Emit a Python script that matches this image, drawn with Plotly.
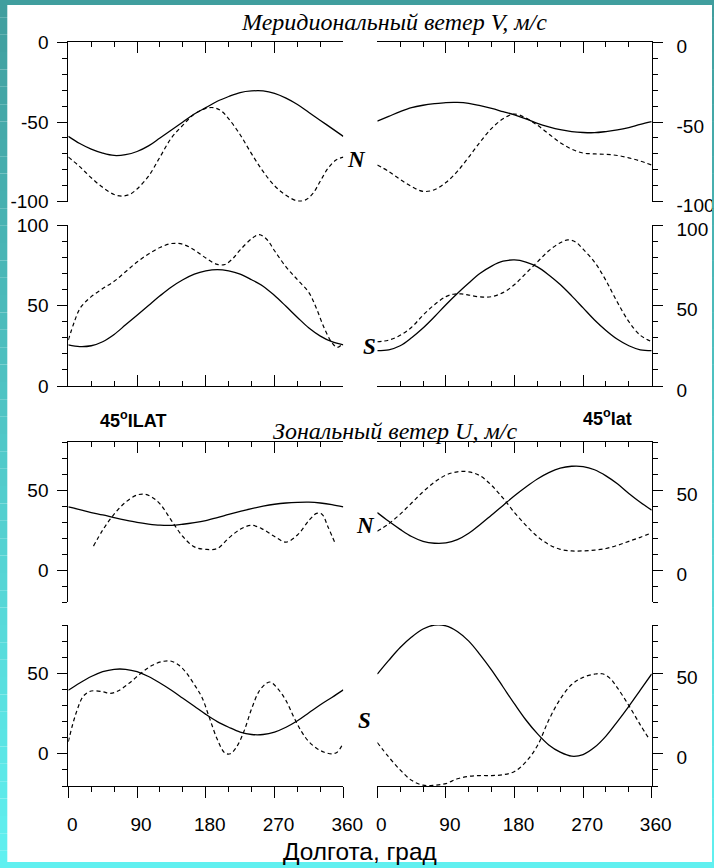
import plotly.graph_objects as go

# ---------------- data ----------------
LON15 = list(range(0, 361, 15))

# Meridional wind V, N, left (45 ILAT)
V_N_L_SOLID = [-59, -63.5, -67, -69.5, -71, -70.5, -68.5, -65, -60, -55, -50, -45, -41,
               -37, -34, -31.5, -30.5, -30.5, -32, -35, -39, -44, -49, -54, -59]
V_N_L_DASH_LON = [0, 15, 30, 45, 60, 70, 80, 90, 105, 120, 135, 150, 165, 180, 190, 200,
                  210, 225, 240, 255, 270, 285, 300, 310, 320, 330, 340, 350, 360]
V_N_L_DASH = [-72, -78, -85, -91, -95.5, -96.5, -95.5, -92, -84, -72, -60, -52, -45, -41.5,
              -41, -43, -48, -58, -70, -81, -90, -96, -99.5, -99, -95, -87, -79, -74, -72]

# Meridional wind V, N, right (45 lat)
V_N_R_SOLID = [-49.5, -46.5, -43.5, -41, -39.5, -38.5, -37.8, -37.7, -38.3, -39.8, -41.5,
               -43.5, -45.5, -48, -50.8, -53, -54.8, -56, -56.6, -56.7, -56, -55, -53.5,
               -51.5, -49.8]
V_N_R_DASH = [-77, -81, -86, -90.5, -93.5, -92.5, -88, -81, -72, -62.5, -54, -48, -45,
              -47.5, -52, -57.5, -63, -67, -69.5, -70, -70.3, -71, -72.5, -74.5, -77]

# Meridional wind V, S, left
V_S_L_SOLID = [25.5, 24.5, 25, 27.5, 32, 38, 44, 50, 56, 61.5, 66, 69.5, 71.5, 72.3, 71.5,
               69.5, 66, 62, 56.2, 49.5, 42.6, 36, 31, 27.5, 25.5]
V_S_L_DASH_LON = [0, 8, 15, 22, 30, 45, 60, 75, 90, 105, 120, 135, 150, 165, 180, 195, 205,
                  215, 225, 240, 250, 260, 270, 285, 300, 315, 325, 335, 345, 352, 360]
V_S_L_DASH = [28.5, 40, 48, 52, 55.5, 60.5, 65, 71, 77, 82, 86, 88.5, 88, 84.5, 79.5, 75.5,
              75.5, 79, 84.5, 91.5, 94, 91, 84, 74, 66, 58, 48, 36, 27, 24, 26.5]

# Meridional wind V, S, right
V_S_R_SOLID = [22, 22.5, 25, 30, 36, 43, 50.5, 57.5, 64, 70, 74.5, 77.5, 78.3, 77, 74, 69,
               63, 56, 48.5, 41, 34.5, 29, 25, 22.5, 22]
V_S_R_DASH_LON = [0, 15, 30, 45, 60, 75, 90, 100, 110, 120, 135, 150, 165, 180, 195, 210,
                  225, 240, 250, 260, 270, 285, 300, 315, 330, 345, 360]
V_S_R_DASH = [27.5, 28.5, 31.5, 36.5, 44, 50.5, 55.5, 57, 57.2, 56.5, 55.3, 55.5, 58, 63, 70,
              77, 84, 89, 90.7, 89.5, 85, 77, 65.5, 52, 40, 31.5, 27.5]

# Zonal wind U, N, left
U_N_L_SOLID = [39.5, 37.8, 36, 34.5, 32.8, 31.2, 29.8, 28.8, 28.1, 28, 28.7, 29.7, 31, 32.8,
               34.8, 36.7, 38.5, 40, 41.2, 42, 42.4, 42.5, 42, 41, 39.5]
U_N_L_DASH_LON = [33, 45, 60, 75, 90, 100, 110, 120, 135, 150, 165, 180, 195, 210, 225, 240,
                  255, 270, 285, 300, 315, 325, 332, 340, 350]
U_N_L_DASH = [15, 25, 35, 42.5, 47, 47.5, 45.5, 41.5, 31, 21, 14.5, 13, 13.5, 20, 25.5, 28,
              25.5, 21, 17.5, 22, 31, 35.5, 35, 27, 16]

# Zonal wind U, N, right
U_N_R_SOLID = [36, 30.5, 25.5, 21, 18, 16.8, 17, 19, 23, 28.5, 34.5, 40.5, 46.5, 52, 57, 61,
               63.8, 65, 64.8, 62.8, 59, 54, 48, 42.5, 37.5]
U_N_R_DASH = [24.3, 29, 35, 42, 49, 55, 59.5, 61.5, 61.5, 59, 53, 45, 36, 28, 21, 16, 13, 12,
              12, 12.5, 13.5, 15.5, 18, 20.5, 23.3]

# Zonal wind U, S, left
U_S_L_SOLID = [39.5, 44, 48, 51, 52.5, 52.5, 51, 48, 44, 39.5, 34.5, 29.5, 24.5, 20, 16.5,
               13.5, 12, 12, 13.5, 16.5, 20.5, 25.5, 30.5, 35, 39.7]
U_S_L_DASH_LON = [0, 10, 20, 30, 45, 55, 65, 80, 95, 110, 125, 135, 145, 155, 165, 175, 185,
                  195, 205, 212, 220, 230, 240, 250, 260, 265, 275, 285, 295, 305, 315, 325,
                  335, 345, 352, 358]
U_S_L_DASH = [7.5, 25, 36, 39, 38.5, 37.5, 39, 44, 50, 55, 57.5, 57.5, 55, 50, 43, 35, 22, 9,
              0.5, 0, 4, 14, 28, 39, 44, 44.5, 40, 33, 23, 14, 7.5, 3.5, 1, 0, 1, 5]

# Zonal wind U, S, right
U_S_R_SOLID = [49.5, 58, 66, 72.5, 77.5, 80, 79.5, 76, 70, 61.5, 52, 41.5, 31, 21, 12.5, 5.5,
               1, -1.5, -0.5, 4, 11, 20, 29.5, 39.5, 49.6]
U_S_R_DASH_LON = [0, 15, 30, 45, 60, 75, 90, 105, 120, 135, 150, 165, 180, 195, 210, 225, 240,
                  255, 270, 285, 295, 305, 315, 330, 345, 357]
U_S_R_DASH = [7, -2, -10, -16.5, -19.5, -19.5, -18.5, -15.5, -14, -13.5, -13.5, -13, -11, -5,
              5, 21, 34, 43, 47.5, 49.5, 49.7, 47, 41, 30, 18, 9]

# tick labels
X_TICKS = [0, 90, 180, 270, 360]
X_TICK_TEXT = ["0", "90", "180", "270", "360"]
V_N_TICKS = [-100, -50, 0]
V_N_TICK_TEXT = ["-100", "-50", "0"]
V_S_TICKS = [0, 50, 100]
V_S_TICK_TEXT = ["0", "50", "100"]
U_TICKS = [0, 50]
U_TICK_TEXT = ["0", "50"]

# ---------------- figure ----------------
W, H = 714, 868


def fx(p):
    return p / W


def fy(p):
    return 1 - p / H


LX = [fx(68.3), fx(343.3)]
RX = [fx(377.3), fx(651.7)]
ROWS = [(42.3, 201.7), (225, 386), (442.3, 602), (625, 786)]
YRANGES = [[-100, 0], [0, 100], [-20, 80], [-20, 80]]
YTICKS = [(V_N_TICKS, V_N_TICK_TEXT), (V_S_TICKS, V_S_TICK_TEXT),
          (U_TICKS, U_TICK_TEXT), (U_TICKS, U_TICK_TEXT)]

series = [
    # panel, x, y, dashed
    (1, LON15, V_N_L_SOLID, False), (1, V_N_L_DASH_LON, V_N_L_DASH, True),
    (2, LON15, V_N_R_SOLID, False), (2, LON15, V_N_R_DASH, True),
    (3, LON15, V_S_L_SOLID, False), (3, V_S_L_DASH_LON, V_S_L_DASH, True),
    (4, LON15, V_S_R_SOLID, False), (4, V_S_R_DASH_LON, V_S_R_DASH, True),
    (5, LON15, U_N_L_SOLID, False), (5, U_N_L_DASH_LON, U_N_L_DASH, True),
    (6, LON15, U_N_R_SOLID, False), (6, LON15, U_N_R_DASH, True),
    (7, LON15, U_S_L_SOLID, False), (7, U_S_L_DASH_LON, U_S_L_DASH, True),
    (8, LON15, U_S_R_SOLID, False), (8, U_S_R_DASH_LON, U_S_R_DASH, True),
]

fig = go.Figure()
for p, xs, ys, dashed in series:
    sfx = "" if p == 1 else str(p)
    fig.add_trace(go.Scatter(
        x=xs, y=ys, mode="lines", xaxis="x" + sfx, yaxis="y" + sfx,
        line=dict(color="black", width=1.2 if dashed else 1.3,
                  dash="4px,3px" if dashed else "solid", shape="spline", smoothing=1.0),
        showlegend=False, hoverinfo="skip"))

TICKFONT = dict(family="Arial, Liberation Sans, sans-serif", size=19, color="black")
layout = {}
for p in range(1, 9):
    row = (p - 1) // 2
    right = (p % 2 == 0)
    sfx = "" if p == 1 else str(p)
    top = row in (0, 2)
    bottom_labels = row == 3
    xt = "outside" if bottom_labels else "inside"
    layout["xaxis" + sfx] = dict(
        domain=RX if right else LX, range=[0, 360], anchor="y" + sfx,
        side="top" if top else "bottom", automargin=False,
        tickmode="array", tickvals=X_TICKS, ticktext=X_TICK_TEXT,
        ticks=xt, ticklen=11, tickwidth=1, tickcolor="black",
        minor=dict(ticks=xt, ticklen=5, dtick=30, tick0=0, tickcolor="black", tickwidth=1),
        showticklabels=bottom_labels, tickfont=TICKFONT, ticklabelstandoff=10,
        ticklabelshift=4,
        showline=True, linecolor="black", linewidth=1, showgrid=False, zeroline=False,
        fixedrange=True)
    tv, tt = YTICKS[row]
    layout["yaxis" + sfx] = dict(
        domain=[fy(ROWS[row][1]), fy(ROWS[row][0])], range=YRANGES[row], anchor="x" + sfx,
        side="right" if right else "left", automargin=False,
        tickmode="array", tickvals=tv, ticktext=tt,
        ticks="outside", ticklen=10, tickwidth=1, tickcolor="black",
        minor=dict(ticks="outside", ticklen=5, dtick=10, tick0=0, tickcolor="black",
                   tickwidth=1),
        showticklabels=True, tickfont=TICKFONT,
        ticklabelstandoff=10 if right else 5,
        ticklabelshift=4 if right else 0,
        showline=True, linecolor="black", linewidth=1, showgrid=False, zeroline=False,
        fixedrange=True)

# background frame (gradient teal -> cyan) drawn as bands
shapes = []
NB = 50
c0 = (64, 158, 158)
c1 = (96, 240, 240)
for k in range(NB):
    t = k / (NB - 1)
    col = "rgb(%d,%d,%d)" % tuple(round(a + (b - a) * t) for a, b in zip(c0, c1))
    y0 = fy(H * (k + 1) / NB)
    y1 = fy(H * k / NB)
    shapes.append(dict(type="rect", xref="paper", yref="paper", x0=0, x1=1, y0=y0, y1=y1,
                       fillcolor=col, line=dict(width=0), layer="below"))
shapes.append(dict(type="rect", xref="paper", yref="paper", x0=fx(7.3), x1=fx(712),
                   y0=fy(862), y1=fy(5), fillcolor="white", line=dict(width=0),
                   layer="below"))
for k in range(NB):
    t = k / (NB - 1)
    col = "rgb(%d,%d,%d)" % tuple(round(a + (b - a) * t) for a, b in zip(c0, c1))
    y0 = fy(H * (k + 1) / NB)
    y1 = fy(H * k / NB)
    shapes.append(dict(type="rect", xref="paper", yref="paper", x0=fx(712), x1=1,
                       y0=y0, y1=y1, fillcolor=col, line=dict(width=0), layer="above"))

SERIF = "Liberation Serif, Times New Roman, serif"
SANS = "Arial, Liberation Sans, sans-serif"


def ann(text, x, y, size, family, xanchor="center"):
    return dict(text=text, x=fx(x), y=fy(y), xref="paper", yref="paper", showarrow=False,
                xanchor=xanchor, yanchor="middle",
                font=dict(family=family, size=size, color="black"))


annotations = [
    ann("<i>Меридиональный ветер V, м/с</i>", 394, 22, 24, SERIF),
    ann("<i>Зональный ветер U, м/с</i>", 395, 431, 24, SERIF),
    ann("<b>45<sup>o</sup>ILAT</b>", 133, 419, 18, SANS),
    ann("<b>45<sup>o</sup>lat</b>", 607, 417, 18, SANS),
    ann("<b><i>N</i></b>", 356, 160, 23, SERIF),
    ann("<b><i>S</i></b>", 369, 347, 23, SERIF),
    ann("<b><i>N</i></b>", 366, 525, 23, SERIF),
    ann("<b><i>S</i></b>", 364, 720, 23, SERIF),
    ann("Долгота, град", 360, 851, 24.4, SANS),
]

fig.update_layout(
    width=W, height=H, margin=dict(l=0, r=0, t=0, b=0),
    paper_bgcolor="white", plot_bgcolor="rgba(0,0,0,0)",
    shapes=shapes, annotations=annotations, **layout)

fig.write_html("out.html")
